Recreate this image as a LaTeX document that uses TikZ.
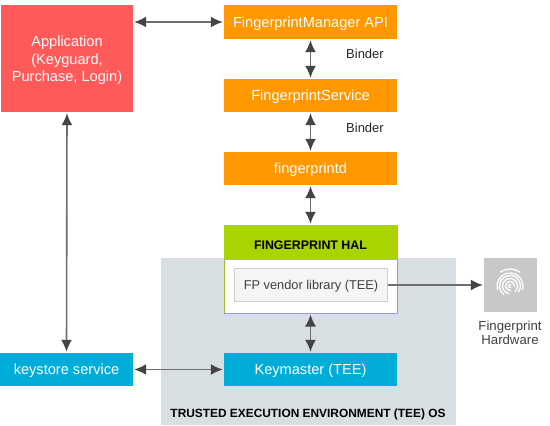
\documentclass[tikz,border=0pt]{standalone}
\usepackage{fontspec}
\setmainfont{Liberation Sans}
\usetikzlibrary{arrows.meta}
\definecolor{appred}{HTML}{FF5A5A}
\definecolor{amber}{HTML}{FF9800}
\definecolor{halgreen}{HTML}{AAD400}
\definecolor{ksblue}{HTML}{00ACD8}
\definecolor{teegray}{HTML}{D8DFE2}
\definecolor{hwgray}{HTML}{C8C8C8}
\definecolor{linegray}{HTML}{6E6E6E}
\definecolor{tipgray}{HTML}{444444}
\tikzset{
  x=1pt,y=-1pt,
  box/.style={inner sep=0pt,align=center,text=white,font=\fontsize{14.6}{17.3}\selectfont,execute at begin node={\rule{0pt}{13.5pt}}},
  lbl/.style={inner sep=0pt,align=center,text=black!80,font=\fontsize{13}{14}\selectfont},
  both/.style={draw=linegray,line width=1.6pt,{Latex[length=12pt,width=11pt,color=tipgray]}-{Latex[length=12pt,width=11pt,color=tipgray]},shorten <=1pt,shorten >=1pt},
  one/.style={draw=linegray,line width=1.6pt,-{Latex[length=12pt,width=11pt,color=tipgray]},shorten >=1pt},
  ridge/.style={draw=white,line width=1.3pt,line cap=round}
}
\begin{document}
\begin{tikzpicture}
\useasboundingbox (0,0) rectangle (550,426);
\fill[teegray] (161,258) rectangle (456,425);
\node[box,fill=appred,minimum width=132pt,minimum height=107pt,execute at begin node={}] (app) at (67,58.5) {\rule{0pt}{14.5pt}Application\\(Keyguard,\\Purchase, Login)};
\node[box,fill=amber,minimum width=173pt,minimum height=34pt] (fm) at (310.5,22) {FingerprintManager API};
\node[box,fill=amber,minimum width=173pt,minimum height=33pt] (fs) at (310.5,95.5) {FingerprintService};
\node[box,fill=amber,minimum width=173pt,minimum height=33pt] (fd) at (310.5,168.5) {fingerprintd};
\node[draw=halgreen!70!gray,line width=1pt,fill=white,inner sep=0pt,minimum width=173pt,minimum height=87pt] (halbody) at (310.5,269.5) {};
\node[box,text=black,fill=halgreen,minimum width=174pt,minimum height=35pt,font=\fontsize{12.4}{14}\selectfont\bfseries] (hal) at (310.5,242.5) {FINGERPRINT HAL};
\node[lbl,draw=teegray!85!gray,line width=1pt,fill=black!4,minimum width=153pt,minimum height=33pt,text=black!75,font=\fontsize{12.8}{14}\selectfont,execute at begin node={\rule{0pt}{12pt}}] (vendor) at (311,285) {FP vendor library (TEE)};
\node[box,fill=ksblue,minimum width=173pt,minimum height=33pt] (km) at (310.5,369.5) {Keymaster (TEE)};
\node[box,fill=ksblue,minimum width=133pt,minimum height=33pt] (ks) at (66.5,369.5) {keystore service};
\node[fill=hwgray,inner sep=0pt,minimum width=53pt,minimum height=54pt] (hw) at (510.5,285) {};
\node[lbl,text=black!75,font=\fontsize{13.2}{14}\selectfont] (hwlabel) at (510,333) {Fingerprint\\Hardware};
\node[lbl,text=black!85] (b1) at (365,54) {Binder};
\node[lbl,text=black!85] (b2) at (365,128) {Binder};
\node[inner sep=0pt,font=\fontsize{11.9}{14}\selectfont\bfseries] (tee) at (308,414) {TRUSTED EXECUTION ENVIRONMENT (TEE) OS};
\draw[both] (app.east |- fm.west) -- (fm.west);
\draw[both,xshift=0.5pt] (fm.south) -- (fs.north);
\draw[both,xshift=0.5pt] (fs.south) -- (fd.north);
\draw[both,xshift=0.5pt] (fd.south) -- (hal.north);
\draw[both,xshift=0.5pt] (halbody.south) -- (km.north);
\draw[both] (app.south) -- (ks.north);
\draw[both] (ks.east) -- (km.west);
\draw[one] (vendor.east) -- (hw.west);
\draw[ridge] (510,286) ++(235:17) arc (235:305:17);
\draw[ridge] (510,286) ++(165:13) arc (165:375:13);
\draw[ridge] (510,286) ++(125:10.5) arc (125:395:10.5);
\draw[ridge] (510,286) ++(100:7.5) arc (100:410:7.5);
\draw[ridge] (510,286) ++(80:4.5) arc (80:360:4.5);
\draw[ridge] (510,286) ++(60:1.5) arc (60:300:1.5);
\end{tikzpicture}
\end{document}
